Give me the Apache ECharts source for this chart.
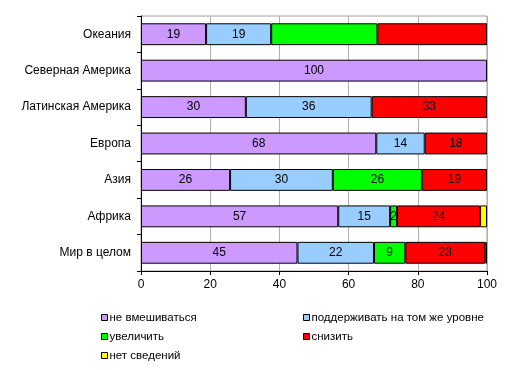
<!DOCTYPE html>
<html><head><meta charset="utf-8">
<script src="https://cdn.jsdelivr.net/npm/echarts@6/dist/echarts.min.js"></script>
<style>html,body{margin:0;padding:0;background:#fff}#c{width:514px;height:370px}</style>
</head><body><div id="c"></div>
<script>
const categories = ["Океания","Северная Америка","Латинская Америка","Европа","Азия","Африка","Мир в целом"];
const seriesNames = ["не вмешиваться","поддерживать на том же уровне","увеличить","снизить","нет сведений"];
const noInterfere = [19, 100, 30, 68, 26, 57, 45];
const maintain    = [19, 0, 36, 14, 30, 15, 22];
const increase    = [31, 0, 0, 0, 26, 2, 9];
const decrease    = [32, 0, 33, 18, 19, 24, 23];
const noData      = [0, 0, 0, 0, 0, 2, 0.5];
const hiddenLabels = [[], [], [0], [0], []]; // category indexes without labels per series
const xTicks = [0, 20, 40, 60, 80, 100];
const colors = ["#CC99FF","#99CCFF","#00FF00","#FF0000","#FFFF00"];

const raw = [noInterfere, maintain, increase, decrease, noData];
const totals = categories.map((_, i) => raw.reduce((s, arr) => s + arr[i], 0));
const font = "Liberation Sans, Arial, sans-serif";

const series = raw.map((arr, si) => ({
  name: seriesNames[si],
  type: 'bar',
  stack: 'total',
  barCategoryGap: '40%',
  itemStyle: { color: colors[si], borderColor: '#000', borderWidth: 1 },
  label: {
    show: si < 4,
    position: 'inside',
    color: '#000',
    fontFamily: font,
    fontSize: 12,
    formatter: p => p.data.raw
  },
  data: arr.map((v, i) => {
    const d = { value: v === 0 ? null : v / totals[i] * 100, raw: v };
    if (hiddenLabels[si] && hiddenLabels[si].includes(i)) d.label = { show: false };
    return d;
  })
}));

const legendBase = {
  orient: 'vertical',
  itemWidth: 6,
  itemHeight: 6,
  itemGap: 6,
  padding: 0,
  height: 60,
  icon: 'rect',
  itemStyle: { borderColor: '#000', borderWidth: 1 },
  textStyle: { fontFamily: font, fontSize: 11.5, color: '#000', lineHeight: 13, padding: [0, 0, 0, -3] },
  selectedMode: false
};

const chart = echarts.init(document.getElementById('c'), null, { renderer: 'canvas' });
chart.setOption({
  animation: false,
  backgroundColor: '#fff',
  color: colors,
  grid: { left: 141, right: 27, top: 16, bottom: 99, show: true, borderColor: '#A0A0A0', borderWidth: 1, containLabel: false },
  legend: [
    Object.assign({}, legendBase, { left: 101, top: 311, data: [seriesNames[0], seriesNames[2], seriesNames[4]] }),
    Object.assign({}, legendBase, { left: 303, top: 311, data: [seriesNames[1], seriesNames[3]] })
  ],
  xAxis: {
    type: 'value', min: 0, max: 100, interval: 20,
    axisLine: { show: true, lineStyle: { color: '#000', width: 1 } },
    axisTick: { show: true, length: 4, lineStyle: { color: '#000' } },
    splitLine: { show: true, lineStyle: { color: '#B0B0B0', width: 1 } },
    axisLabel: { color: '#000', fontFamily: font, fontSize: 12, margin: 8,
      formatter: v => xTicks.includes(v) ? String(v) : '' }
  },
  yAxis: {
    type: 'category', data: categories, inverse: true,
    axisLine: { show: true, lineStyle: { color: '#000', width: 1 } },
    axisTick: { show: true, length: 4, inside: false, lineStyle: { color: '#000' } },
    axisLabel: { color: '#000', fontFamily: font, fontSize: 12, margin: 10 },
    splitLine: { show: false }
  },
  series: series
});
</script></body></html>
